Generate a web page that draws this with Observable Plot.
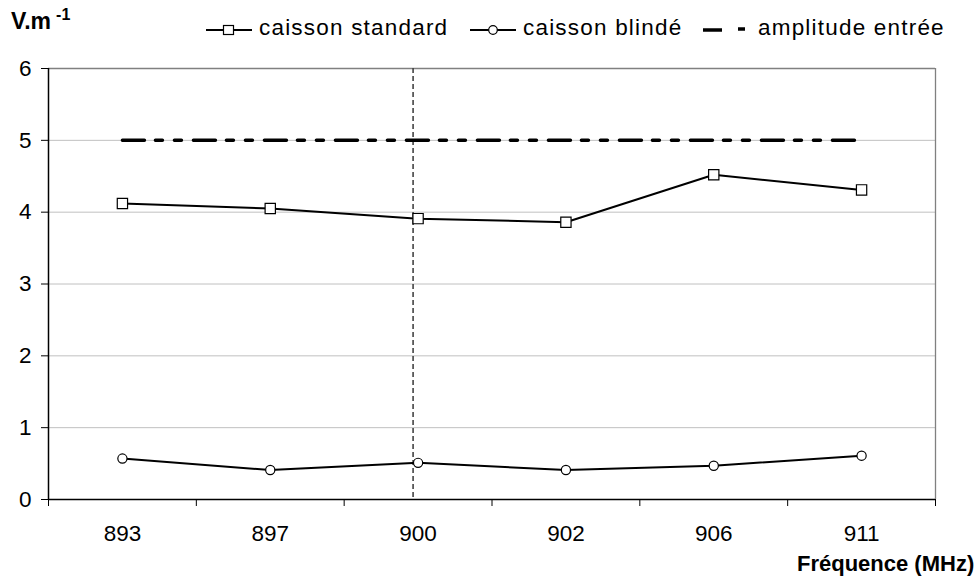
<!DOCTYPE html>
<html><head><meta charset="utf-8">
<script src="https://cdn.jsdelivr.net/npm/d3@7"></script>
<script src="https://cdn.jsdelivr.net/npm/@observablehq/plot@0.6"></script>
<style>
body{margin:0;background:#fff;font-family:"Liberation Sans",Arial,sans-serif;}
#wrap{position:relative;width:980px;height:579px;overflow:hidden;}
.abs{position:absolute;white-space:nowrap;line-height:1;color:#000;}
.leg{font-size:22.5px;letter-spacing:1.2px;}
</style></head><body><div id="wrap"></div>
<script>
const categories = ["893","897","900","902","906","911"];
const standard = [4.12,4.05,3.91,3.86,4.52,4.31];
const blinde = [0.57,0.41,0.51,0.41,0.47,0.61];
const amplitude = [5,5,5,5,5,5];
const yTicks = [0,1,2,3,4,5,6];
const gridTicks = [1,2,3,4,5];
const markerFreq = "900";
const seriesNames = ["caisson standard","caisson blindé","amplitude entrée"];
const yUnit = "V.m";
const yUnitExp = "-1";
const xTitle = "Fréquence (MHz)";

const idx = c => categories.indexOf(c);
const rows = (vals) => categories.map((c,i)=>({x: idx(c), y: vals[i]}));
const stdRows = rows(standard), blRows = rows(blinde), ampRows = rows(amplitude);
const boundaries = d3.range(categories.length+1).map(i => i - 0.5);

const chart = Plot.plot({
  width: 980, height: 579,
  marginLeft: 48, marginRight: 45, marginTop: 68, marginBottom: 80,
  style: {fontFamily: '"Liberation Sans", Arial, sans-serif', fontSize: "22px", background: "#fff", color: "#000"},
  x: {type: "linear", domain: [-0.5, categories.length - 0.5]},
  y: {domain: [0, 6]},
  marks: [
    Plot.ruleY(gridTicks, {stroke: "#c0c0c0", strokeWidth: 1}),
    Plot.ruleY([6], {stroke: "#808080", strokeWidth: 1.3}),
    Plot.ruleX([categories.length - 0.5], {stroke: "#808080", strokeWidth: 1.3}),
    Plot.ruleX([idx(markerFreq)], {dx: -5, stroke: "#444", strokeWidth: 1.6, strokeDasharray: "5,3"}),
    Plot.line(ampRows, {x: "x", y: "y", stroke: "#000", strokeWidth: 3.5, strokeDasharray: "22,11,7,12,7,12"}),
    Plot.line(stdRows, {x: "x", y: "y", stroke: "#000", strokeWidth: 2}),
    Plot.dot(stdRows, {x: "x", y: "y", symbol: "square", r: 5.8, fill: "#fff", stroke: "#000", strokeWidth: 1.2}),
    Plot.line(blRows, {x: "x", y: "y", stroke: "#000", strokeWidth: 2}),
    Plot.dot(blRows, {x: "x", y: "y", symbol: "circle", r: 4.6, fill: "#fff", stroke: "#000", strokeWidth: 1.2}),
    Plot.ruleX([-0.5], {stroke: "#000", strokeWidth: 1.5}),
    Plot.ruleY([0], {stroke: "#000", strokeWidth: 1.5}),
    Plot.axisY(yTicks, {tickSize: 7, tickPadding: 10, tickFormat: "d", label: null, fontSize: 22.5}),
    Plot.axisX(boundaries, {tickSize: 7, tickFormat: () => "", label: null}),
    Plot.axisX(categories.map(idx), {tickSize: 0, tickPadding: 26, tickFormat: i => categories[i], label: null, fontSize: 22.5})
  ]
});
const wrap = document.getElementById("wrap");
wrap.appendChild(chart);

function add(html, style, cls){ const d=document.createElement("div"); d.className="abs "+(cls||""); d.innerHTML=html; Object.assign(d.style, style); wrap.appendChild(d); return d; }
add(`<b style="font-size:23px">${yUnit}</b><sup style="font-size:16px;font-weight:bold;position:relative;top:-3px;margin-left:5px">${yUnitExp}</sup>`, {left:"11px", top:"10px"});
add(`<b style="font-size:22px">${xTitle}</b>`, {left:"797px", top:"553px"});

function swatch(kind){
  if(kind==="square") return `<svg width="46" height="14" style="vertical-align:middle"><line x1="0" y1="7" x2="46" y2="7" stroke="#000" stroke-width="2"/><rect x="17.5" y="2.5" width="10" height="9" fill="#fff" stroke="#000" stroke-width="1.2"/></svg>`;
  if(kind==="circle") return `<svg width="46" height="14" style="vertical-align:middle"><line x1="0" y1="7" x2="46" y2="7" stroke="#000" stroke-width="2"/><circle cx="23" cy="7" r="4.3" fill="#fff" stroke="#000" stroke-width="1.2"/></svg>`;
  return `<svg width="46" height="14" style="vertical-align:middle"><line x1="0" y1="7" x2="19" y2="7" stroke="#000" stroke-width="3.5"/><line x1="35" y1="6" x2="42" y2="6" stroke="#000" stroke-width="3.5"/></svg>`;
}
add(swatch("square"), {left:"206px", top:"21px"});
add(seriesNames[0], {left:"259px", top:"17px"}, "leg");
add(swatch("circle"), {left:"470px", top:"21px"});
add(seriesNames[1], {left:"523px", top:"17px"}, "leg");
add(swatch("dash"), {left:"703px", top:"21px"});
add(seriesNames[2], {left:"758px", top:"17px"}, "leg");
</script></body></html>
